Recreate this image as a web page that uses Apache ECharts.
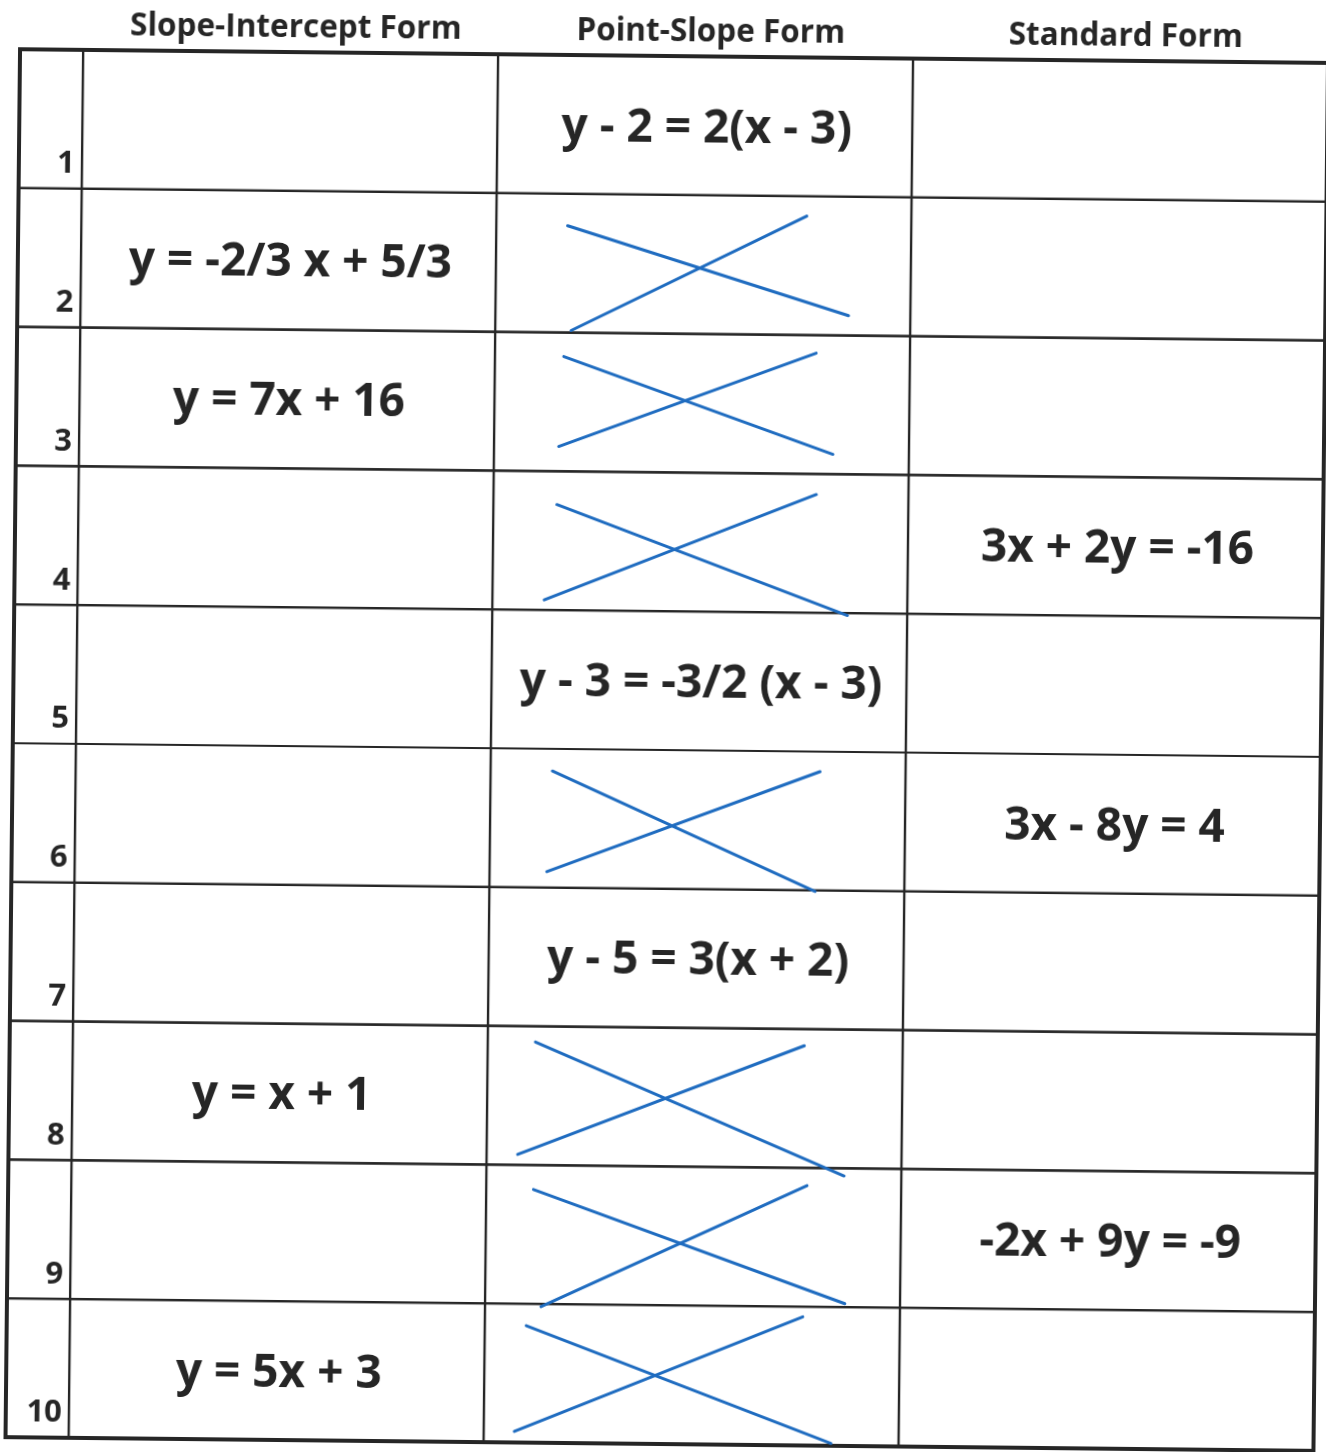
<!DOCTYPE html>
<html lang="en">
<head>
  <meta charset="UTF-8">
  <title>Forms of a line</title>
  <script src="https://cdn.jsdelivr.net/npm/echarts@6/dist/echarts.min.js"></script>
  <style>
    html, body { margin: 0; padding: 0; background: #fff; }
    /* the worksheet was scanned a little crooked */
    #main { width: 1326px; height: 1452px; transform: rotate(0.6deg); }
  </style>
</head>
<body>
  <div id="main"></div>

  <script type="text/javascript">
    // table content
    var headers = ['Slope-Intercept Form', 'Point-Slope Form', 'Standard Form'];
    var rowNumbers = ['1', '2', '3', '4', '5', '6', '7', '8', '9', '10'];
    var slopeIntercept = ['', 'y = -2/3 x + 5/3', 'y = 7x + 16', '', '', '', '', 'y = x + 1', '', 'y = 5x + 3'];
    var pointSlope = ['y - 2 = 2(x - 3)', '', '', '', 'y - 3 = -3/2 (x - 3)', '', 'y - 5 = 3(x + 2)', '', '', ''];
    var standardForm = ['', '', '', '3x + 2y = -16', '', '3x - 8y = 4', '', '', '-2x + 9y = -9', ''];

    // hand drawn crosses in the point-slope column, as fractions of the cell
    var crossedRows = [2, 3, 4, 6, 8, 9, 10];
    var strokeDown = [ // upper left -> lower right [x0, y0, x1, y1]
      [0.172, 0.23, 0.851, 0.857],
      [0.166, 0.173, 0.817, 0.857],
      [0.153, 0.24, 0.856, 1.017],
      [0.149, 0.16, 0.785, 1.007],
      [0.115, 0.113, 0.862, 1.055],
      [0.114, 0.176, 0.867, 0.975],
      [0.100, 0.158, 0.837, 0.983]
    ];
    var strokeUp = [ // lower left -> upper right
      [0.183, 0.985, 0.748, 0.143],
      [0.156, 0.821, 0.774, 0.130],
      [0.125, 0.928, 0.778, 0.148],
      [0.138, 0.885, 0.794, 0.144],
      [0.075, 0.924, 0.763, 0.120],
      [0.135, 1.020, 0.773, 0.127],
      [0.074, 0.920, 0.766, 0.073]
    ];

    // layout: number column is narrow, the three form columns are equal
    var colWidths = [0.152, 1, 1, 1];
    var colEdges = [0];
    for (var i = 0; i < colWidths.length; i++) colEdges.push(colEdges[i] + colWidths[i]);
    var nRows = rowNumbers.length;

    var ink = '#262626';
    var pen = '#1f6cc0';
    var fontFam = '"Open Sans", Lato, sans-serif';

    // cells
    var cellData = [];
    for (var r = 0; r < nRows; r++) {
      for (var c = 0; c < colWidths.length; c++) cellData.push([c, r]);
    }

    // equations text
    var textData = [];
    [slopeIntercept, pointSlope, standardForm].forEach(function (col, ci) {
      col.forEach(function (t, ri) {
        if (t) textData.push([ci + 1, ri, t]);
      });
    });

    // crosses
    var crossData = [];
    crossedRows.forEach(function (row, k) {
      crossData.push([row - 1].concat(strokeDown[k]));
      crossData.push([row - 1].concat(strokeUp[k]));
    });

    var myChart = echarts.init(document.getElementById('main'), null, { renderer: 'canvas' });

    myChart.setOption({
      backgroundColor: '#fff',
      animation: false,
      grid: { left: 13, top: 56, width: 1308, height: 1388 },
      xAxis: { type: 'value', min: 0, max: colEdges[colEdges.length - 1], show: false },
      yAxis: { type: 'value', min: 0, max: nRows, inverse: true, show: false },
      series: [
        {
          // cell borders
          type: 'custom',
          clip: false,
          silent: true,
          data: cellData,
          renderItem: function (params, api) {
            var c = api.value(0), r = api.value(1);
            var p0 = api.coord([colEdges[c], r]);
            var p1 = api.coord([colEdges[c + 1], r + 1]);
            return {
              type: 'rect',
              shape: { x: p0[0], y: p0[1], width: p1[0] - p0[0], height: p1[1] - p0[1] },
              style: { fill: null, stroke: ink, lineWidth: 2.2 }
            };
          },
          z: 2
        },
        {
          // heavier outer frame
          type: 'custom',
          clip: false,
          silent: true,
          data: [[0]],
          renderItem: function (params, api) {
            var p0 = api.coord([0, 0]);
            var p1 = api.coord([colEdges[colEdges.length - 1], nRows]);
            return {
              type: 'rect',
              shape: { x: p0[0], y: p0[1], width: p1[0] - p0[0], height: p1[1] - p0[1] },
              style: { fill: null, stroke: ink, lineWidth: 4 }
            };
          },
          z: 3
        },
        {
          // column headers above the table
          type: 'custom',
          clip: false,
          silent: true,
          data: headers.map(function (h, i) { return [i + 1, h]; }),
          renderItem: function (params, api) {
            var c = api.value(0);
            var p = api.coord([(colEdges[c] + colEdges[c + 1]) / 2, 0]);
            return {
              type: 'text',
              x: p[0] + 5,
              y: p[1] - 24,
              style: {
                text: headers[c - 1],
                fill: ink,
                fontFamily: fontFam,
                fontWeight: 'bold',
                fontSize: 31.5,
                align: 'center',
                verticalAlign: 'middle'
              }
            };
          }
        },
        {
          // row numbers, bottom right of the first column
          type: 'custom',
          clip: false,
          silent: true,
          data: rowNumbers.map(function (n, i) { return [i, n]; }),
          renderItem: function (params, api) {
            var r = api.value(0);
            var p = api.coord([colEdges[1], r + 1]);
            return {
              type: 'text',
              x: p[0] - 7,
              y: p[1] - 9,
              style: {
                text: rowNumbers[r],
                fill: ink,
                fontFamily: fontFam,
                fontWeight: 'bold',
                fontSize: 31,
                align: 'right',
                verticalAlign: 'bottom'
              }
            };
          },
          z: 4
        },
        {
          // equations
          type: 'custom',
          clip: false,
          silent: true,
          data: textData,
          renderItem: function (params, api) {
            var c = api.value(0), r = api.value(1);
            var p = api.coord([(colEdges[c] + colEdges[c + 1]) / 2, r + 0.5]);
            return {
              type: 'text',
              x: p[0] + 2,
              y: p[1] + 3,
              style: {
                text: textData[params.dataIndex][2],
                fill: ink,
                fontFamily: fontFam,
                fontWeight: 'bold',
                fontSize: 46,
                align: 'center',
                verticalAlign: 'middle'
              }
            };
          },
          z: 4
        },
        {
          // blue pen strokes
          type: 'custom',
          clip: false,
          silent: true,
          data: crossData,
          renderItem: function (params, api) {
            var r = api.value(0);
            var x0 = colEdges[2], w = colWidths[2];
            var a = api.coord([x0 + api.value(1) * w, r + api.value(2)]);
            var b = api.coord([x0 + api.value(3) * w, r + api.value(4)]);
            return {
              type: 'line',
              shape: { x1: a[0], y1: a[1], x2: b[0], y2: b[1] },
              style: { stroke: pen, lineWidth: 3, lineCap: 'round' }
            };
          },
          z: 5
        }
      ]
    });
  </script>
</body>
</html>
